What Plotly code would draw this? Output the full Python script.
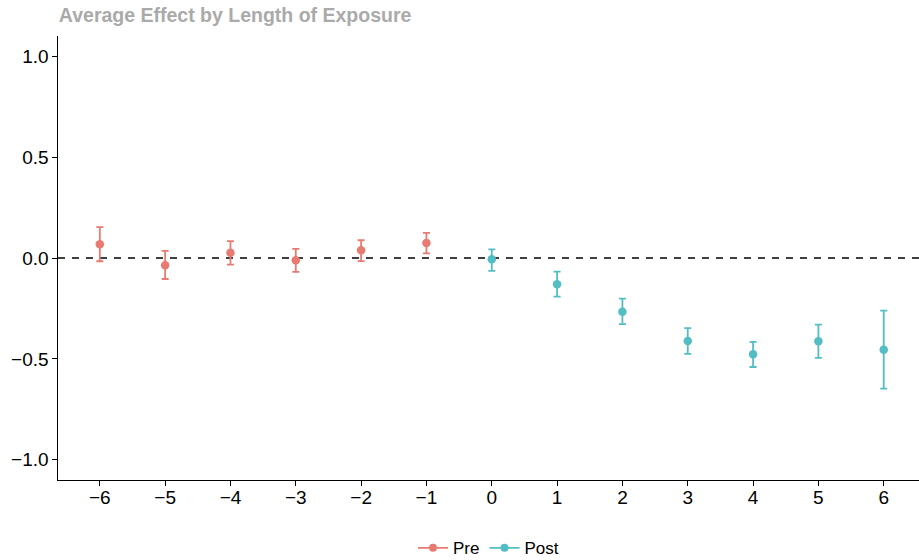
import plotly.graph_objects as go

# Event-time periods relative to exposure
pre_periods = [-6, -5, -4, -3, -2, -1]
post_periods = [0, 1, 2, 3, 4, 5, 6]

# Point estimates and confidence bounds
pre_est = [0.068, -0.036, 0.026, -0.011, 0.038, 0.074]
pre_upper = [0.153, 0.035, 0.084, 0.045, 0.088, 0.124]
pre_lower = [-0.016, -0.104, -0.033, -0.069, -0.015, 0.023]

post_est = [-0.006, -0.130, -0.266, -0.411, -0.477, -0.412, -0.454]
post_upper = [0.043, -0.068, -0.201, -0.347, -0.416, -0.330, -0.261]
post_lower = [-0.064, -0.191, -0.328, -0.475, -0.540, -0.495, -0.647]

x_ticks = list(range(-6, 7))
y_ticks = [-1.0, -0.5, 0.0, 0.5, 1.0]

PRE_COLOR = "#E87B71"
POST_COLOR = "#52BEC3"

fig = go.Figure()


def add_series(name, x, est, lo, hi, color):
    fig.add_trace(go.Scatter(
        x=x, y=est, mode="markers", name=name, showlegend=False,
        marker=dict(color=color, size=8.5),
        error_y=dict(type="data", symmetric=False,
                     array=[h - e for h, e in zip(hi, est)],
                     arrayminus=[e - l for e, l in zip(est, lo)],
                     color=color, thickness=1.8, width=3.5),
    ))
    # legend key: line with point
    fig.add_trace(go.Scatter(
        x=[None], y=[None], mode="lines+markers", name=name,
        marker=dict(color=color, size=8), line=dict(color=color, width=1.8),
    ))


# zero reference line
fig.add_shape(type="line", xref="paper", x0=0, x1=1, yref="y", y0=0, y1=0,
              line=dict(color="black", width=1.5, dash="7px,7px"), layer="below")

add_series("Pre", pre_periods, pre_est, pre_lower, pre_upper, PRE_COLOR)
add_series("Post", post_periods, post_est, post_lower, post_upper, POST_COLOR)

fig.update_layout(
    width=919, height=560,
    margin=dict(l=58, r=0, t=36, b=80, autoexpand=False),
    paper_bgcolor="white", plot_bgcolor="white",
    font=dict(family="Liberation Sans, Arial, sans-serif", color="black", size=19),
    title=dict(text="<b>Average Effect by Length of Exposure</b>",
               x=0.001, xref="paper", xanchor="left", y=0.973, yanchor="middle",
               font=dict(size=19.5, color="#AAAAAA")),
    xaxis=dict(range=[-6.64, 6.54], tickvals=x_ticks, ticks="outside", ticklen=4.5,
               tickcolor="black", showgrid=False, zeroline=False, ticklabelstandoff=-4,
               showline=True, linecolor="black", linewidth=1.2),
    yaxis=dict(range=[-1.1, 1.1], tickvals=y_ticks, ticktext=["−1.0", "−0.5", "0.0", "0.5", "1.0"],
               ticks="outside", ticklen=4.5, tickcolor="black", showgrid=False,
               zeroline=False, showline=True, linecolor="black", linewidth=1.2),
    legend=dict(orientation="h", x=0.5, xanchor="center",
                yref="container", y=0.021, yanchor="middle",
                font=dict(size=17), itemwidth=30, tracegroupgap=0),
)

fig.write_html("out.html")
